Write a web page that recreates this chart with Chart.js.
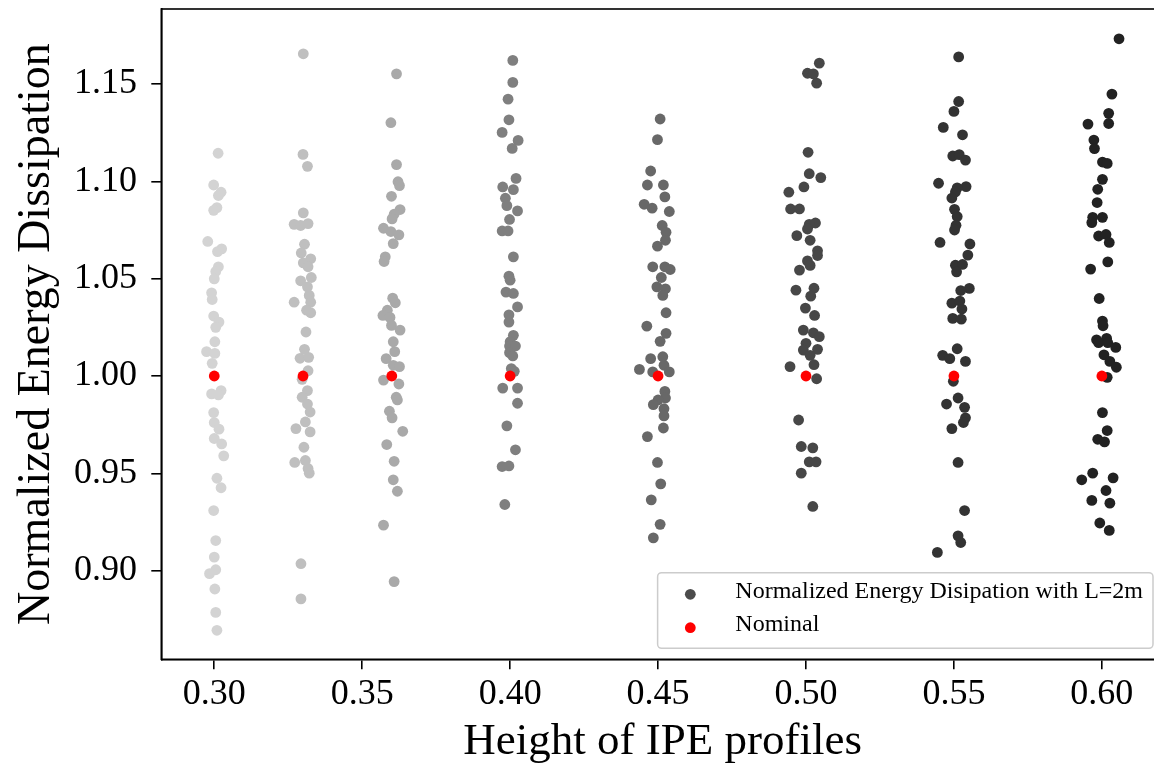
<!DOCTYPE html>
<html>
<head>
<meta charset="utf-8">
<script src="https://cdn.jsdelivr.net/npm/chart.js@4.4.1/dist/chart.umd.min.js"></script>
<style>
html,body{margin:0;padding:0;background:#fff;overflow:hidden;}
#wrap{width:1172px;height:768px;}
</style>
</head>
<body>
<div id="wrap"><canvas id="c" width="1172" height="768"></canvas></div>
<script>
// ---------- DATA ----------
const heights = [0.30, 0.33, 0.36, 0.40, 0.45, 0.50, 0.55, 0.60];
const nominalValues = [1, 1, 1, 1, 1, 1, 1, 1];
const xTicks = [0.30, 0.35, 0.40, 0.45, 0.50, 0.55, 0.60];
const yTicks = [0.90, 0.95, 1.00, 1.05, 1.10, 1.15];
const seriesLabel = 'Normalized Energy Disipation with L=2m';
const nominalLabel = 'Nominal';

const values030 = [1.1144,1.0981,1.0944,1.0927,1.0865,1.0851,1.0691,1.0653,1.0639,1.0561,1.0537,1.0499,1.0427,1.0393,1.0308,1.0277,1.0250,1.0176,1.0125,1.0116,1.0065,0.9925,0.9908,0.9903,0.9812,0.9761,0.9727,0.9679,0.9651,0.9590,0.9475,0.9426,0.9309,0.9155,0.9070,0.9005,0.8985,0.8906,0.8786,0.8694];
const jitter030 = [0.0013,-0.0002,0.0023,0.0014,0.0009,-0.0002,-0.0022,0.0025,0.0011,0.0014,0.0005,0,-0.0009,-0.0007,-0.0002,0.0016,0.0005,0.0002,-0.0026,0.0002,-0.0007,0.0023,-0.0009,0.0014,-0.0002,0,0.0016,0,0.0025,0.0032,0.0009,0.0023,-0.0002,0.0005,0,0.0005,-0.0016,0.0002,0.0005,0.0009];

const values033 = [1.1655,1.1138,1.1077,1.0838,1.0779,1.0773,1.0783,1.0677,1.0632,1.0602,1.0581,1.0561,1.0506,1.0489,1.0458,1.0414,1.0379,1.0379,1.0338,1.0325,1.0226,1.0137,1.0091,1.0096,1.0027,0.9983,0.9925,0.9891,0.9856,0.9815,0.9764,0.9730,0.9713,0.9634,0.9556,0.9566,0.9525,0.9501,0.9036,0.8855];
const jitter033 = [0.0001,0,0.0015,0.0001,-0.0030,-0.0008,0.0017,0.0005,-0.0006,0.0026,0.0001,0.0017,0.0028,-0.0008,0.0015,0.0021,-0.0030,0.0026,0.0012,0.0026,0.0010,0.0005,-0.0010,0.0019,0.0017,-0.0003,0.0015,-0.0003,0.0015,0.0024,0.0008,-0.0024,0.0024,0.0003,-0.0028,0.0008,0.0017,0.0021,-0.0007,-0.0007];

const values036 = [1.1552,1.1301,1.1086,1.0998,1.0978,1.0923,1.0855,1.0831,1.0807,1.0759,1.0742,1.0725,1.0680,1.0612,1.0588,1.0400,1.0376,1.0338,1.0311,1.0301,1.0260,1.0236,1.0176,1.0125,1.0089,1.0055,1.0048,0.9979,0.9959,0.9891,0.9877,0.9819,0.9785,0.9716,0.9648,0.9562,0.9467,0.9408,0.9234,0.8944];
const jitter036 = [0.0016,-0.0003,0.0016,0.0021,0.0026,-0.0001,0.0028,0.0008,0.0001,-0.0028,-0.0003,0.0024,0.0005,-0.0022,-0.0026,0.0003,0.0012,-0.0015,-0.0030,-0.0006,-0.0001,0.0028,0.0005,0.0010,-0.0019,0.0005,0.0026,-0.0028,0.0024,0.0015,0.0019,-0.0008,0.0001,0.0037,-0.0017,0.0008,0.0005,0.0019,-0.0028,0.0008];

const values040 = [1.1621,1.1508,1.1422,1.1316,1.1251,1.1210,1.1169,1.1015,1.0971,1.0957,1.0913,1.0875,1.0848,1.0804,1.0745,1.0745,1.0612,1.0513,1.0492,1.0431,1.0424,1.0355,1.0314,1.0277,1.0209,1.0176,1.0154,1.0154,1.0120,1.0103,1.0038,1.0024,0.9938,0.9938,0.9860,0.9744,0.9621,0.9535,0.9538,0.9340];
const jitter040 = [0.0009,0.0009,-0.0007,-0.0004,-0.0027,0.0027,0.0007,0.0020,-0.0025,0.0011,-0.0016,-0.0011,0.0025,-0.0002,-0.0027,-0.0007,0.0011,-0.0004,0,-0.0014,0.0011,0.0025,-0.0004,-0.0004,0.0011,0,-0.0002,0.0018,-0.0002,0.0009,0.0004,0.0014,-0.0025,0.0025,0.0025,-0.0011,0.0018,-0.0027,-0.0004,-0.0018];

const values045 = [1.1320,1.1214,1.1053,1.0981,1.0981,1.0920,1.0882,1.0862,1.0845,1.0773,1.0738,1.0697,1.0667,1.0561,1.0561,1.0547,1.0506,1.0458,1.0448,1.0414,1.0325,1.0256,1.0219,1.0178,1.0089,1.0099,1.0034,1.0055,1.0021,1.0021,0.9921,0.9887,0.9877,0.9853,0.9832,0.9795,0.9733,0.9689,0.9556,0.9446,0.9364,0.9238,0.9169];
const jitter045 = [0.0007,-0.0002,-0.0025,-0.0036,0.0018,0.0023,-0.0047,-0.0020,0.0038,0.0014,0.0027,0.0025,-0.0002,-0.0018,0.0023,0.0041,0.0011,-0.0004,0.0025,0.0016,0.0027,-0.0038,0.0027,0.0007,-0.0025,0.0016,-0.0063,0.0020,-0.0018,0.0038,0.0023,0.0025,0,-0.0016,0.0020,0.0020,0.0018,-0.0036,-0.0002,0.0009,-0.0023,0.0007,-0.0016];

const values050 = [1.1607,1.1555,1.1552,1.1504,1.1149,1.1039,1.1019,1.0971,1.0944,1.0858,1.0858,1.0786,1.0779,1.0755,1.0721,1.0697,1.0643,1.0619,1.0591,1.0568,1.0544,1.0441,1.0451,1.0410,1.0349,1.0311,1.0236,1.0222,1.0202,1.0168,1.0133,1.0137,1.0106,1.0058,1.0048,0.9986,0.9774,0.9638,0.9631,0.9559,0.9559,0.9501,0.9330];
const jitter050 = [0.0045,0.0005,0.0025,0.0036,0.0007,0.0011,0.0050,-0.0007,-0.0058,-0.0052,-0.0022,0.0032,0.0011,0.0005,-0.0031,0.0014,0.0039,0.0039,0.0005,0.0014,-0.0022,-0.0034,0.0027,0.0016,-0.0002,0.0029,-0.0009,0.0025,0.0045,0,-0.0009,0.0039,0.0014,0.0027,-0.0054,0.0036,-0.0025,-0.0016,0.0023,0.0011,0.0034,-0.0016,0.0023];

const values055 = [1.1639,1.1410,1.1359,1.1277,1.1239,1.1130,1.1137,1.1109,1.0990,1.0973,1.0966,1.0945,1.0914,1.0856,1.0819,1.0774,1.0750,1.0686,1.0678,1.0621,1.0569,1.0573,1.0535,1.0450,1.0439,1.0374,1.0385,1.0344,1.0296,1.0292,1.0140,1.0106,1.0089,1.0075,0.9973,0.9856,0.9887,0.9839,0.9785,0.9761,0.9730,0.9556,0.9309,0.9179,0.9145,0.9094];
const jitter055 = [0.0016,0.0016,0,-0.0036,0.0029,-0.0004,0.0018,0.0039,-0.0052,0.0041,0.0011,0.0005,-0.0007,0.0002,0.0011,0.0007,0.0002,-0.0047,0.0054,0.0047,0.0005,0.0029,0.0009,0.0052,0.0023,-0.0007,0.0020,0.0027,-0.0004,0.0025,0.0011,-0.0038,-0.0014,0.0039,-0.0002,-0.0025,0.0014,0.0036,0.0039,0.0032,-0.0007,0.0014,0.0036,0.0014,0.0023,-0.0056];

const values060 = [1.1732,1.1448,1.1349,1.1294,1.1297,1.1212,1.1168,1.1099,1.1092,1.1010,1.0959,1.0891,1.0815,1.0815,1.0788,1.0719,1.0727,1.0686,1.0586,1.0549,1.0398,1.0282,1.0258,1.0186,1.0193,1.0171,1.0171,1.0147,1.0109,1.0075,1.0045,0.9993,0.9812,0.9720,0.9675,0.9662,0.9501,0.9467,0.9477,0.9412,0.9361,0.9347,0.9245,0.9207];
const jitter060 = [0.0058,0.0034,0.0023,-0.0047,0.0023,-0.0027,-0.0025,0.0002,0.0018,0.0002,-0.0014,-0.0016,-0.0031,0.0002,-0.0034,-0.0011,0.0014,0.0025,0.0020,-0.0038,-0.0009,0.0002,0.0004,-0.0018,0.0016,-0.0011,0.0020,0.0047,0.0007,0.0027,0.0049,0.0018,0.0002,0.0018,-0.0014,0.0009,-0.0031,-0.0068,0.0038,0.0014,-0.0034,0.0027,-0.0007,0.0025];

// ---------- STYLE ----------
const FONT = '"Liberation Serif", "Times New Roman", Times, serif';
const greyColors = ['#d3d3d3','#bfbfbf','#a9a9a9','#7f7f7f','#686868','#474747','#333333','#222222'];
const legendGrey = '#4b4b4b';
const nominalColor = '#ff0000';
const R = 5.4;

const columns = [values030, values033, values036, values040, values045, values050, values055, values060];
const jitters = [jitter030, jitter033, jitter036, jitter040, jitter045, jitter050, jitter055, jitter060];

const datasets = [{
  label: nominalLabel,
  data: heights.map((h, i) => ({x: h, y: nominalValues[i]})),
  backgroundColor: nominalColor,
  borderWidth: 0,
  pointRadius: R,
  order: 0
}];
heights.forEach((h, i) => {
  datasets.push({
    label: seriesLabel,
    data: columns[i].map((v, k) => ({x: h + jitters[i][k], y: v})),
    backgroundColor: greyColors[i],
    borderWidth: 0,
    pointRadius: R,
    order: 1
  });
});

const framePlugin = {
  id: 'frame',
  afterDatasetsDraw(chart) {
    const {ctx, chartArea: ca} = chart;
    ctx.save();
    ctx.strokeStyle = '#000';
    ctx.lineWidth = 1.6;
    ctx.strokeRect(ca.left, ca.top, ca.right - ca.left, ca.bottom - ca.top);
    ctx.restore();
  }
};

const legendPlugin = {
  id: 'boxLegend',
  afterDraw(chart) {
    const {ctx, chartArea: ca} = chart;
    const items = [
      {color: legendGrey, text: chart.data.datasets[1].label},
      {color: nominalColor, text: chart.data.datasets[0].label}
    ];
    ctx.save();
    ctx.font = '24px ' + FONT;
    const textW = Math.max(...items.map(it => ctx.measureText(it.text).width));
    const boxW = 77.7 + textW + 10;
    const boxH = 75.6;
    const bx = ca.right - 11 - boxW;
    const by = ca.bottom - 11 - boxH;
    ctx.beginPath();
    ctx.roundRect(bx, by, boxW, boxH, 4);
    ctx.fillStyle = 'rgba(255,255,255,0.85)';
    ctx.fill();
    ctx.strokeStyle = '#cccccc';
    ctx.lineWidth = 1.5;
    ctx.stroke();
    items.forEach((it, r) => {
      const yy = by + 21.6 + r * 33.4;
      ctx.beginPath();
      ctx.arc(bx + 32.7, yy, R, 0, Math.PI * 2);
      ctx.fillStyle = it.color;
      ctx.fill();
      ctx.fillStyle = '#000';
      ctx.textAlign = 'left';
      ctx.textBaseline = 'middle';
      ctx.fillText(it.text, bx + 77.7, yy - 2.8);
    });
    ctx.restore();
  }
};

new Chart(document.getElementById('c'), {
  type: 'scatter',
  data: {datasets},
  plugins: [framePlugin, legendPlugin],
  options: {
    responsive: false,
    animation: false,
    events: [],
    layout: {padding: {top: 9, right: 8, bottom: 0, left: 0}},
    plugins: {legend: {display: false}, tooltip: {enabled: false}},
    scales: {
      x: {
        type: 'linear',
        min: 0.2821,
        max: 0.6210,
        afterBuildTicks: s => { s.ticks = xTicks.map(v => ({value: v})); },
        afterFit: s => { s.height = 108.7; s.paddingLeft = 0; s.paddingRight = 0; },
        ticks: {
          callback: v => Number(v).toFixed(2),
          font: {family: FONT, size: 36},
          color: '#000',
          padding: 4,
          maxRotation: 0,
          autoSkip: false
        },
        grid: {drawOnChartArea: false, drawTicks: true, tickLength: 10, color: '#000', lineWidth: 1.6},
        border: {display: true, color: '#000', width: 1.6},
        title: {
          display: true,
          text: 'Height of IPE profiles',
          font: {family: FONT, size: 45, lineHeight: 1},
          color: '#000',
          padding: {top: 0, bottom: 3.5}
        }
      },
      y: {
        type: 'linear',
        min: 0.8545,
        max: 1.1885,
        afterBuildTicks: s => { s.ticks = yTicks.map(v => ({value: v})); },
        afterFit: s => { s.width = 161.3; s.paddingTop = 0; s.paddingBottom = 0; },
        ticks: {
          callback: v => Number(v).toFixed(2),
          font: {family: FONT, size: 36},
          color: '#000',
          padding: 14.3,
          autoSkip: false
        },
        grid: {drawOnChartArea: false, drawTicks: true, tickLength: 10, color: '#000', lineWidth: 1.6},
        border: {display: true, color: '#000', width: 1.6},
        title: {
          display: true,
          text: 'Normalized Energy Dissipation',
          font: {family: FONT, size: 46, lineHeight: 1},
          color: '#000',
          padding: {top: 14, bottom: 0}
        }
      }
    }
  }
});
</script>
</body>
</html>
